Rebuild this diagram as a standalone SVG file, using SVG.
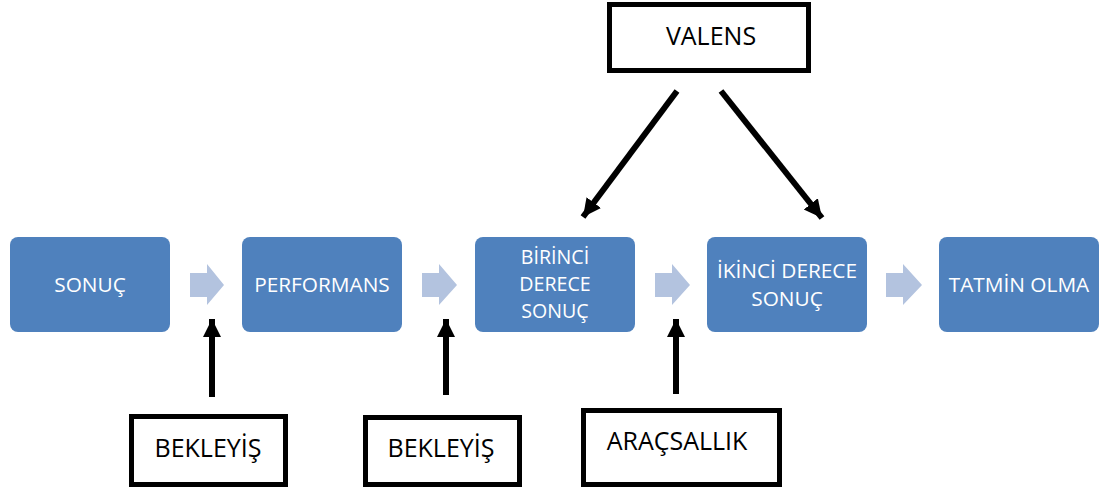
<svg xmlns="http://www.w3.org/2000/svg" width="1103" height="490" viewBox="0 0 1103 490">
<defs>
<style>
.node rect.b{fill:#4F81BD;}
.node text{fill:#fff;font-family:"Open Sans","Liberation Sans",sans-serif;font-size:20.8px;text-anchor:middle;}
.node text.m{font-size:19.6px;}
.ext rect{fill:#fff;stroke:#000;stroke-width:5;}
.ext text{fill:#000;font-family:"Open Sans","Liberation Sans",sans-serif;font-size:25px;text-anchor:middle;}
.blk{fill:#B3C3DF;}
.con line{stroke:#000;stroke-width:6;}
</style>
<marker id="ah" viewBox="0 0 10 10" refX="10" refY="5" markerWidth="3" markerHeight="3.3" orient="auto" markerUnits="strokeWidth">
<path d="M0,0 L10,5 L0,10 z" fill="#000"/>
</marker>
</defs>
<g id="n1" class="node"><rect class="b" x="10" y="237" width="160" height="95" rx="8"/><text x="90" y="292">SONUÇ</text></g>
<g id="n2" class="node"><rect class="b" x="242" y="237" width="160" height="95" rx="8"/><text x="322" y="292">PERFORMANS</text></g>
<g id="n3" class="node"><rect class="b" x="475" y="237" width="160" height="95" rx="8"/><text class="m" x="555" y="264">BİRİNCİ</text><text class="m" x="555" y="291">DERECE</text><text class="m" x="555" y="318">SONUÇ</text></g>
<g id="n4" class="node"><rect class="b" x="707" y="237" width="160" height="95" rx="8"/><text x="787" y="278">İKİNCİ DERECE</text><text x="787" y="306">SONUÇ</text></g>
<g id="n5" class="node"><rect class="b" x="939" y="237" width="160" height="95" rx="8"/><text x="1019" y="292">TATMİN OLMA</text></g>
<g id="e1" class="ext"><rect x="131.5" y="416.5" width="154" height="68"/><text x="208" y="457">BEKLEYİŞ</text></g>
<g id="e2" class="ext"><rect x="365.5" y="417.5" width="154" height="67"/><text x="441" y="457">BEKLEYİŞ</text></g>
<g id="e3" class="ext"><rect x="583.5" y="410.5" width="196" height="74"/><text x="677" y="450">ARAÇSALLIK</text></g>
<g id="e4" class="ext"><rect x="609.5" y="4.5" width="199" height="66"/><text x="711" y="45">VALENS</text></g>
<g id="connectors" class="con">
<path class="blk" d="M190,273 H207 V264 L224,285 L207,305 V297 H190 z"/>
<path class="blk" d="M422,273 H439 V264 L457,285 L439,305 V297 H422 z"/>
<path class="blk" d="M655,273 H672 V264 L690,285 L672,305 V297 H655 z"/>
<path class="blk" d="M886,273 H903 V264 L922,285 L903,305 V297 H886 z"/>
<line x1="212" y1="397" x2="212" y2="319" marker-end="url(#ah)"/>
<line x1="446" y1="395" x2="446" y2="319" marker-end="url(#ah)"/>
<line x1="676" y1="394" x2="676" y2="319" marker-end="url(#ah)"/>
<line x1="677" y1="91" x2="583" y2="217" marker-end="url(#ah)"/>
<line x1="721" y1="91" x2="822" y2="218" marker-end="url(#ah)"/>
</g>
</svg>
